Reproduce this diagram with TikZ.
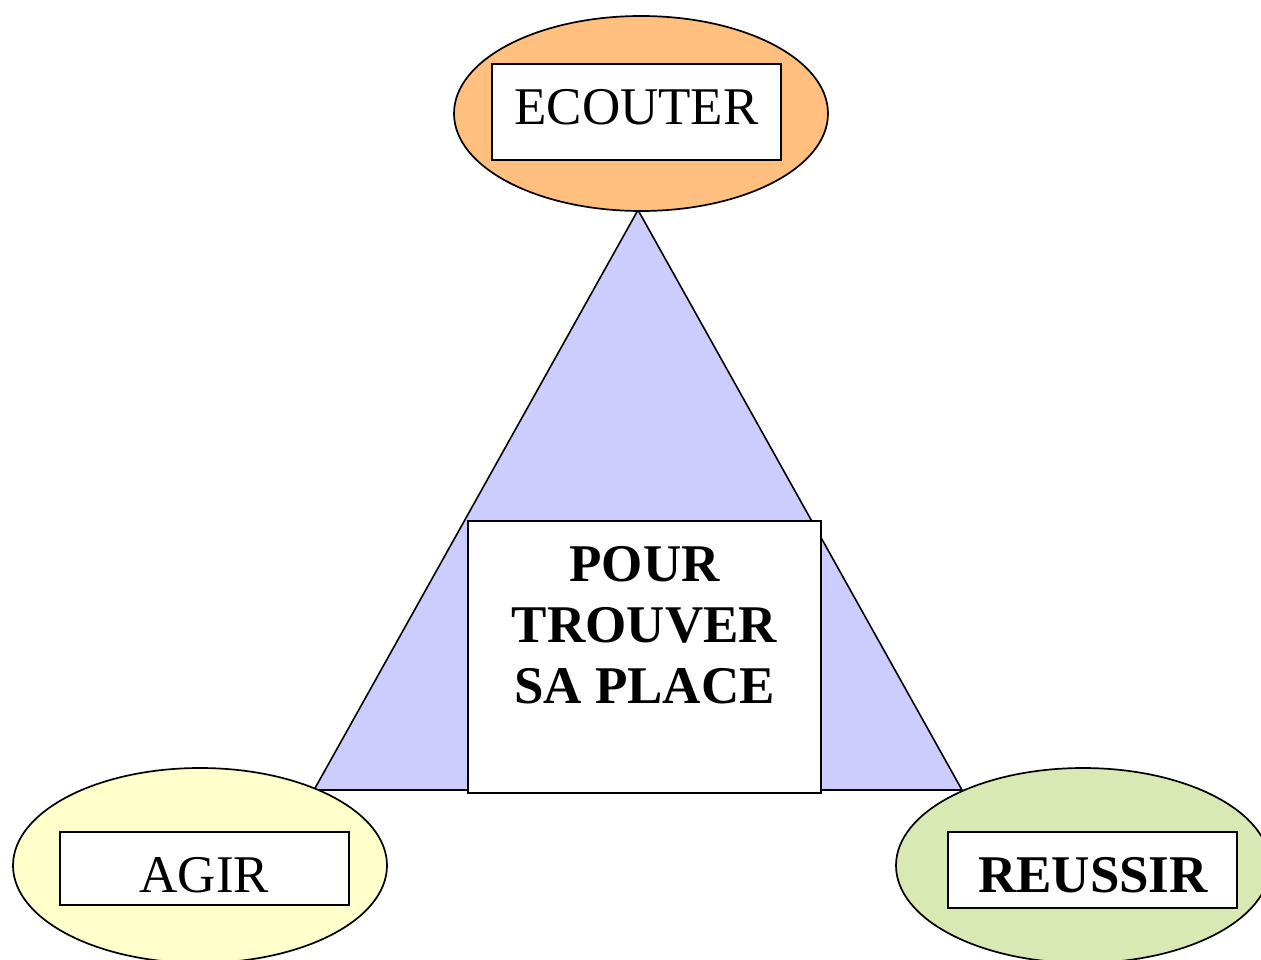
\documentclass[tikz,border=0pt]{standalone}
\usepackage{fontspec}
\setmainfont{Liberation Serif}
\usetikzlibrary{shapes.geometric, positioning}
\definecolor{ecoutefill}{HTML}{FFBF7F}
\definecolor{agirfill}{HTML}{FFFFCC}
\definecolor{reussirfill}{HTML}{D8E9B4}
\definecolor{trifill}{HTML}{CCCCFF}

\begin{document}
\begin{tikzpicture}[x=1pt,y=-1pt,
    bulle/.style={draw=black,line width=1.7pt,ellipse,inner sep=0pt,
      minimum width=374pt,minimum height=195pt},
    cadre/.style={draw=black,fill=white,line width=2pt,rectangle,inner sep=0pt},
    mot/.style={anchor=base,inner sep=0pt,font=\fontsize{53}{61}\selectfont}]
  \useasboundingbox (0,0) rectangle (1261,960);
  \clip (0,0) rectangle (1261,960);
  % le triangle
  \coordinate (apex) at (638,210);
  \coordinate (coinG) at (314,790);
  \coordinate (coinD) at (962,790);
  \filldraw[fill=trifill,draw=black,line width=1.6pt] (apex) -- (coinG) -- (coinD) -- cycle;
  % les bulles
  \node[bulle,fill=ecoutefill] (ecoute) at (641,113.5) {};
  \node[bulle,fill=agirfill] (agir) at (200,865.5) {};
  \node[bulle,fill=reussirfill] (reussir) at (1083,865.5) {};
  % les cadres
  \node[cadre,minimum width=289pt,minimum height=96pt] (ecbox) at (636.5,112) {};
  \node[cadre,minimum width=289pt,minimum height=73pt] (agbox) at (204.5,868.5) {};
  \node[cadre,minimum width=289pt,minimum height=76pt] (rebox) at (1092.5,870) {};
  \node[cadre,minimum width=353pt,minimum height=272pt] (centre) at (644.5,657) {};
  % les textes
  \node[mot] (ectext) at (636.5,125) {ECOUTER};
  \node[mot] (agtext) at (204.5,892) {AGIR};
  \node[mot,font=\fontsize{53}{61}\selectfont\bfseries] (retext) at (1093,892) {REUSSIR};
  \node[anchor=north,inner sep=0pt,align=center,
    font=\fontsize{53}{61}\selectfont\bfseries] (titre) at (644.5,546)
    {POUR\\TROUVER\\SA PLACE};
\end{tikzpicture}
\end{document}
